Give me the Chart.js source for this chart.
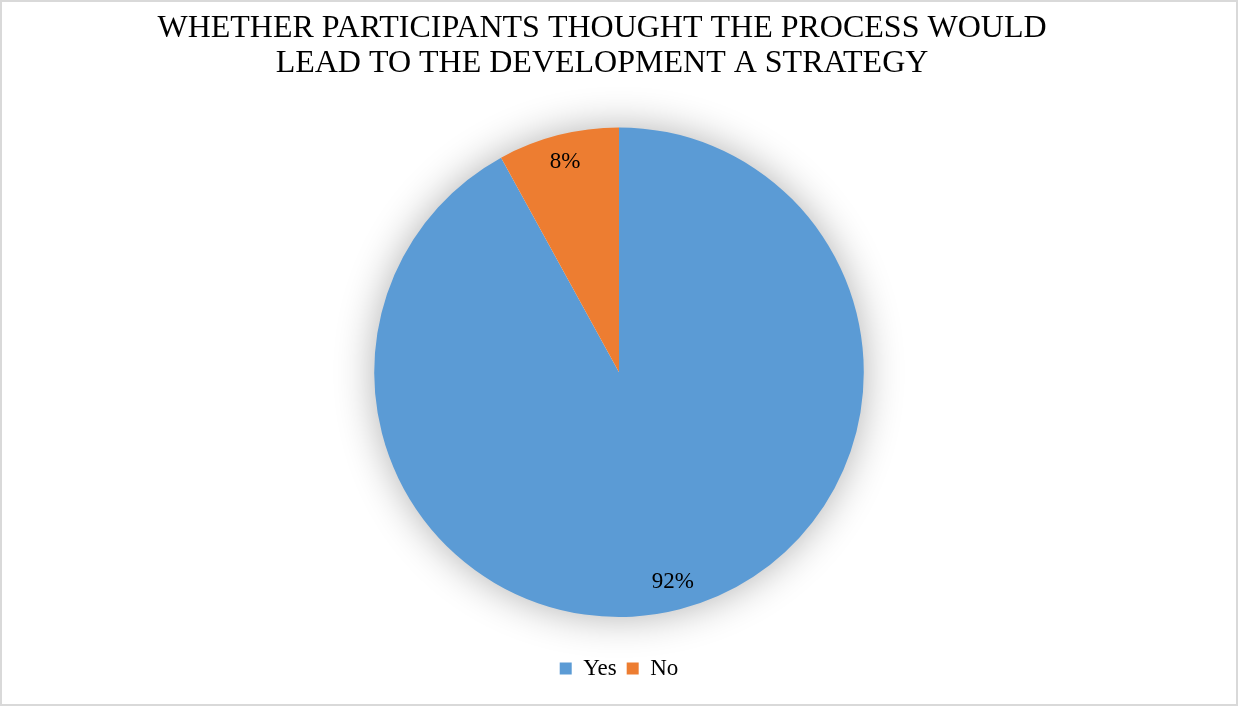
<!DOCTYPE html>
<html>
<head>
<meta charset="utf-8">
<script src="https://cdn.jsdelivr.net/npm/chart.js@4"></script>
<style>
    html, body { margin: 0; padding: 0; background: #fff; }
    #wrap {
        width: 1238px; height: 706px; box-sizing: border-box;
        border: 2px solid #d9d9d9; position: relative;
    }
    #chart { display: block; }
</style>
</head>
<body>
<div id="wrap"><canvas id="chart" width="1234" height="702"></canvas></div>
<script>
const titleLines = ['WHETHER PARTICIPANTS THOUGHT THE PROCESS WOULD', 'LEAD TO THE DEVELOPMENT A STRATEGY'];
const categories = ['Yes', 'No'];
const shares = [92, 8];
const sliceColors = ['#5b9bd5', '#ed7d31'];

const serif = '"Liberation Serif", "Times New Roman", serif';

// 円の下に柔らかい影を描く
const pieShadow = {
    id: 'pieShadow',
    afterLayout(chart) {
        // タイトルは元図では少し左寄り
        if (chart.titleBlock) {
            chart.titleBlock.left -= 34;
        }
    },
    beforeDatasetsDraw(chart) {
        const arc = chart.getDatasetMeta(0).data[0];
        if (!arc) return;
        const ctx = chart.ctx;
        ctx.save();
        ctx.shadowColor = 'rgba(0,0,0,0.32)';
        ctx.shadowBlur = 40;
        ctx.fillStyle = '#ffffff';
        ctx.beginPath();
        ctx.arc(arc.x, arc.y, arc.outerRadius - 1, 0, Math.PI * 2);
        ctx.fill();
        ctx.restore();
    }
};

// パーセント表示（内側の端寄り）
const sliceLabels = {
    id: 'sliceLabels',
    afterDatasetsDraw(chart) {
        const ctx = chart.ctx;
        const meta = chart.getDatasetMeta(0);
        ctx.save();
        ctx.font = '23px ' + serif;
        ctx.fillStyle = '#000';
        ctx.textAlign = 'center';
        ctx.textBaseline = 'middle';
        meta.data.forEach((arc, i) => {
            const mid = (arc.startAngle + arc.endAngle) / 2;
            const r = arc.outerRadius * 0.885;
            ctx.fillText(shares[i] + '%', arc.x + Math.cos(mid) * r, arc.y + Math.sin(mid) * r);
        });
        ctx.restore();
    }
};

new Chart(document.getElementById('chart'), {
    type: 'pie',
    data: {
        labels: categories,
        datasets: [{
            data: shares,
            backgroundColor: sliceColors,
            borderWidth: 0
        }]
    },
    plugins: [pieShadow, sliceLabels],
    options: {
        responsive: false,
        animation: false,
        layout: { padding: { top: 0, bottom: 14 } },
        plugins: {
            title: {
                display: true,
                text: titleLines,
                color: '#000',
                font: { family: serif, size: 32, weight: 'normal', lineHeight: 1.1 },
                padding: { top: 9, bottom: 46 }
            },
            legend: {
                position: 'bottom',
                title: {
                    display: true,
                    text: ' ',
                    font: { size: 10, lineHeight: 1 },
                    padding: { top: 10, bottom: 10 }
                },
                labels: {
                    color: '#000',
                    font: { family: serif, size: 23 },
                    boxWidth: 12,
                    boxHeight: 12,
                    padding: 10
                }
            },
            tooltip: { enabled: false }
        }
    }
});
</script>
</body>
</html>
